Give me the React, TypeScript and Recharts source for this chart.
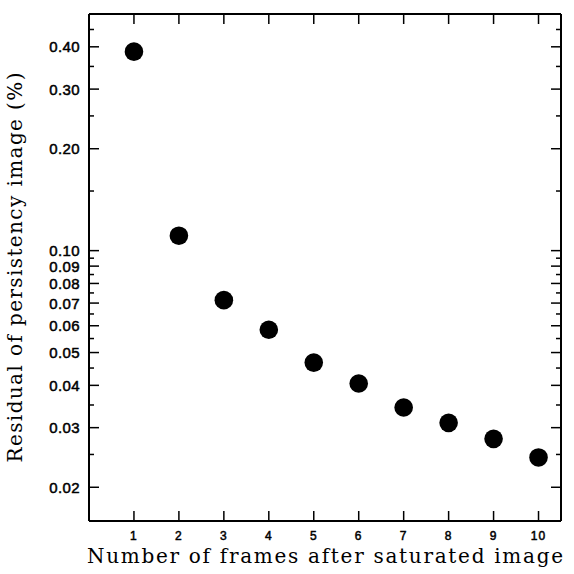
import React from 'react'
import { ScatterChart, Scatter, XAxis, YAxis } from 'recharts'

// values
const frames = [1, 2, 3, 4, 5, 6, 7, 8, 9, 10]
const residual = [0.387, 0.1107, 0.0714, 0.0584, 0.0467, 0.0405, 0.0344, 0.031, 0.0278, 0.0245]

const xTicks = [1, 2, 3, 4, 5, 6, 7, 8, 9, 10]
const yMajorTicks = [0.02, 0.03, 0.04, 0.05, 0.06, 0.07, 0.08, 0.09, 0.1, 0.2, 0.3, 0.4]
const yMajorLabels = ['0.02', '0.03', '0.04', '0.05', '0.06', '0.07', '0.08', '0.09', '0.10', '0.20', '0.30', '0.40']
const yMinorTicks = [0.025, 0.035, 0.045, 0.055, 0.065, 0.075, 0.085, 0.095, 0.15, 0.25, 0.35, 0.45]

const yTicks = [...yMajorTicks, ...yMinorTicks].sort((a, b) => a - b)

const chartData = frames.map((f, i) => ({ frame: f, residual: residual[i] }))

const INK = '#000'
const TICK_FONT = '"Liberation Sans", Arial, sans-serif'
const TITLE_FONT = '"DejaVu Serif", serif'

const isMajor = (v: number) => yMajorTicks.some((m) => Math.abs(m - v) < 1e-9)
const labelFor = (v: number) => {
    const i = yMajorTicks.findIndex((m) => Math.abs(m - v) < 1e-9)
    return i >= 0 ? yMajorLabels[i] : ''
}

// left axis: tick mark pointing into the plot + label on the outside
function LeftTick(props: any) {
    const { x, y, payload } = props
    const v = payload.value
    const axisX = x + 9
    const len = isMajor(v) ? 10 : 5
    return (
        <g>
            <line x1={axisX} y1={y} x2={axisX + len} y2={y} stroke={INK} strokeWidth={1.5} />
            {isMajor(v) && (
                <text x={x} y={y} dy={5.5} textAnchor="end" fontFamily={TICK_FONT} fontSize={15} fill={INK}
                    stroke={INK} strokeWidth={0.5} letterSpacing={0.4}>
                    {labelFor(v)}
                </text>
            )}
        </g>
    )
}

function RightTick(props: any) {
    const { x, y, payload } = props
    const len = isMajor(payload.value) ? 10 : 5
    return <line x1={x} y1={y} x2={x - len} y2={y} stroke={INK} strokeWidth={1.5} />
}

function BottomTick(props: any) {
    const { x, y, payload } = props
    return (
        <g>
            <line x1={x} y1={y} x2={x} y2={y - 10} stroke={INK} strokeWidth={1.5} />
            <text x={x} y={y + 19} textAnchor="middle" fontFamily={TICK_FONT} fontSize={12} fill={INK}
                stroke={INK} strokeWidth={0.5} letterSpacing={1}>
                {payload.value}
            </text>
        </g>
    )
}

function TopTick(props: any) {
    const { x, y } = props
    return <line x1={x} y1={y} x2={x} y2={y + 10} stroke={INK} strokeWidth={1.5} />
}

const Dot = (props: any) => <circle cx={props.cx} cy={props.cy} r={9.3} fill={INK} />

function XTitle(props: any) {
    const { viewBox } = props
    const cx = viewBox.x + viewBox.width / 2
    return (
        <text x={cx} y={viewBox.y + 42} textAnchor="middle" fontFamily={TITLE_FONT} fontSize={20}
            fill={INK} textLength={476} lengthAdjust="spacing">
            Number of frames after saturated image
        </text>
    )
}

function YTitle(props: any) {
    const { viewBox } = props
    const cy = viewBox.y + viewBox.height / 2
    const cx = 22
    return (
        <text x={cx} y={cy} textAnchor="middle" fontFamily={TITLE_FONT} fontSize={20} fill={INK}
            transform={`rotate(-90 ${cx} ${cy})`} textLength={390} lengthAdjust="spacing">
            Residual of persistency image (%)
        </text>
    )
}

export default function App() {
    return (
        <div style={{ position: 'absolute', left: 0, top: 0, background: '#fff' }}>
            <ScatterChart width={574} height={574} data={chartData}
                margin={{ top: 13, right: 12, bottom: 52, left: 88 }}>
                <XAxis xAxisId="bottom" dataKey="frame" type="number" domain={[0, 10.5]} ticks={xTicks}
                    orientation="bottom" height={1} tickSize={0} tickMargin={0} tickLine={false}
                    axisLine={{ stroke: INK, strokeWidth: 2 }} tick={<BottomTick />} interval={0}
                    allowDataOverflow label={<XTitle />} />
                <XAxis xAxisId="top" dataKey="frame" type="number" domain={[0, 10.5]} ticks={xTicks}
                    orientation="top" height={1} tickSize={0} tickMargin={0} tickLine={false}
                    axisLine={{ stroke: INK, strokeWidth: 2 }} tick={<TopTick />} interval={0} allowDataOverflow />
                <YAxis yAxisId="left" dataKey="residual" type="number" scale="log" domain={[0.0159, 0.5]}
                    ticks={yTicks} interval={0} orientation="left" width={1} tickSize={0} tickMargin={9}
                    tickLine={false} axisLine={{ stroke: INK, strokeWidth: 2 }} tick={<LeftTick />}
                    allowDataOverflow label={<YTitle />} />
                <YAxis yAxisId="right" dataKey="residual" type="number" scale="log" domain={[0.0159, 0.5]}
                    ticks={yTicks} interval={0} orientation="right" width={1} tickSize={0} tickMargin={0}
                    tickLine={false} axisLine={{ stroke: INK, strokeWidth: 2 }} tick={<RightTick />}
                    allowDataOverflow />
                <Scatter xAxisId="bottom" yAxisId="left" dataKey="residual" fill={INK}
                    shape={<Dot />} isAnimationActive={false} />
            </ScatterChart>
        </div>
    )
}
